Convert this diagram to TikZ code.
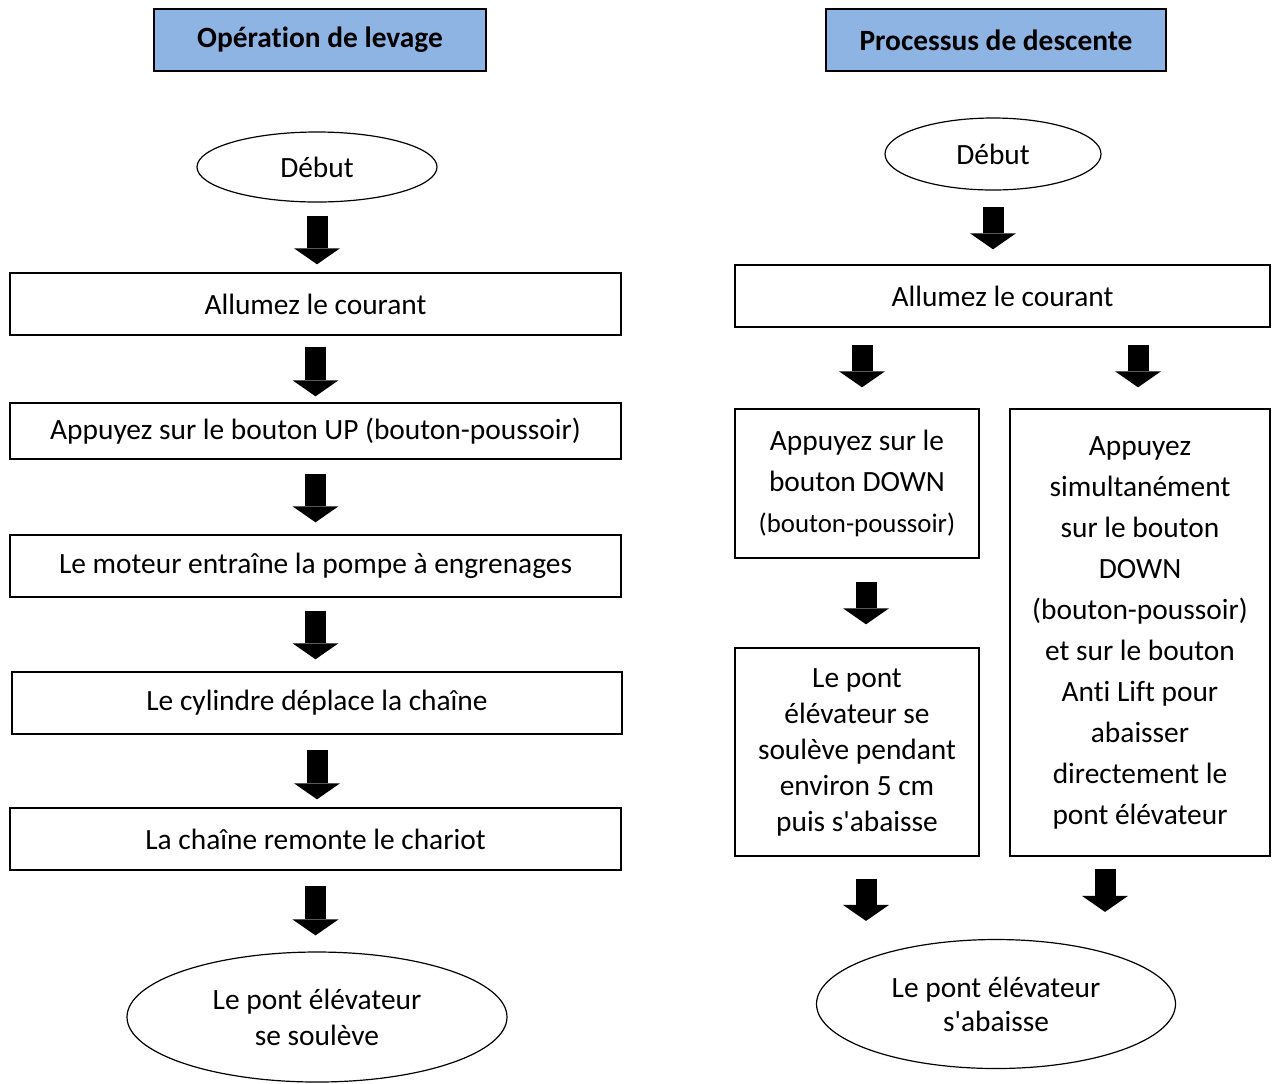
\documentclass[tikz,border=0pt]{standalone}
\usepackage{fontspec}
\defaultfontfeatures[\rmfamily]{}
\setmainfont{Carlito}[Ligatures={NoCommon,NoContextual}]
\usetikzlibrary{shapes.geometric,arrows.meta}
\definecolor{titleblue}{HTML}{8EB4E3}

\begin{document}
\begin{tikzpicture}[x=0.5pt, y=-0.5pt,
    box/.style={rectangle, draw, line width=0.7pt, align=center, inner sep=2pt, font=\fontsize{14.7}{20.5}\selectfont},
    title/.style={box, fill=titleblue, line width=1pt, minimum height=31pt, font=\bfseries\fontsize{14.7}{17}\selectfont},
    oval/.style={ellipse, draw, line width=0.6pt, inner sep=0pt, align=center, font=\fontsize{14.7}{18}\selectfont},
    blk/.style={line width=10.5pt, -{Triangle[width=23pt,length=8pt,line width=0pt]}}]
    \useasboundingbox (0,0) rectangle (1272,1083);
    % Nodes
    \node[title, minimum width=166pt] (T1) at (320,40) {Opération de levage};
    \node[oval, minimum width=120pt, minimum height=35pt] (D1) at (317,167) {Début};
    \node[box, minimum width=305.5pt, minimum height=31pt] (B1) at (315.5,304) {Allumez le courant};
    \node[box, minimum width=305.5pt, minimum height=28pt] (B2) at (315.5,431) {Appuyez sur le bouton UP (bouton-poussoir)};
    \node[box, minimum width=305.5pt, minimum height=31pt] (B3) at (315.5,566) {Le moteur entraîne la pompe à engrenages};
    \node[box, minimum width=305pt, minimum height=31pt] (B4) at (317,703) {Le cylindre déplace la chaîne};
    \node[box, minimum width=305.5pt, minimum height=31pt] (B5) at (315.5,839) {La chaîne remonte le chariot};
    \node[oval, minimum width=190pt, minimum height=65pt] (E1) at (317,1017) {Le pont élévateur\\se soulève};

    \node[title, minimum width=170pt] (T2) at (996,40) {Processus de descente};
    \node[oval, minimum width=108pt, minimum height=36pt] (D2) at (993,154) {Début};
    \node[box, minimum width=267.5pt, minimum height=31pt] (R1) at (1002.5,296) {Allumez le courant};
    \node[box, minimum width=122pt, minimum height=74.5pt] (RL) at (857,483.5)
        {Appuyez sur le\\bouton DOWN\\{\fontsize{13.4}{15}\selectfont(bouton-poussoir)}};
    \node[box, minimum width=130pt, minimum height=223.5pt] (RR) at (1140,632.5)
        {Appuyez\\simultanément\\sur le bouton\\DOWN\\(bouton-poussoir)\\et sur le bouton\\Anti Lift pour\\abaisser\\directement le\\pont élévateur};
    \node[box, minimum width=122pt, minimum height=104pt, font=\fontsize{14.7}{18}\selectfont] (RL2) at (857,752)
        {Le pont\\élévateur se\\soulève pendant\\environ 5 cm\\puis s'abaisse};
    \node[oval, minimum width=179.5pt, minimum height=64.5pt, font=\fontsize{14.7}{17}\selectfont] (E2) at (996,1004)
        {Le pont élévateur\\s'abaisse};

    % Fleches
    \draw[blk, shorten <=6.5pt, shorten >=4pt] (D1.south) -- (D1.south |- B1.north);
    \draw[blk, shorten <=5.5pt, shorten >=3pt] (B1.south) -- (B2.north);
    \draw[blk, shorten <=7pt, shorten >=6pt] (B2.south) -- (B3.north);
    \draw[blk, shorten <=6.5pt, shorten >=6pt] (B3.south) -- (B3.south |- B4.north);
    \draw[blk, shorten <=7.5pt, shorten >=4pt] (B4.south) -- (B4.south |- B5.north);
    \draw[blk, shorten <=7.5pt, shorten >=8pt] (B5.south) -- (B5.south |- E1.north);

    \draw[blk, shorten <=8pt, shorten >=7.5pt] (D2.south) -- (D2.south |- R1.north);
    \draw[blk, shorten <=8.5pt, shorten >=10.5pt] ([xshift=2.5pt]RL.north |- R1.south) -- ([xshift=2.5pt]RL.north);
    \draw[blk, shorten <=8.5pt, shorten >=10.5pt] ([xshift=-1pt]RR.north |- R1.south) -- ([xshift=-1pt]RR.north);
    \draw[blk, shorten <=11.5pt, shorten >=11.5pt] ([xshift=4.5pt]RL.south) -- ([xshift=4.5pt]RL2.north);
    \draw[blk, shorten <=11pt, shorten >=9pt] ([xshift=4.5pt]RL2.south) -- ([xshift=4.5pt]RL2.south |- E2.north);
    \draw[blk, shorten <=6pt, shorten >=13.5pt] ([xshift=-17.5pt]RR.south) -- ([xshift=-17.5pt]RR.south |- E2.north);
\end{tikzpicture}
\end{document}
